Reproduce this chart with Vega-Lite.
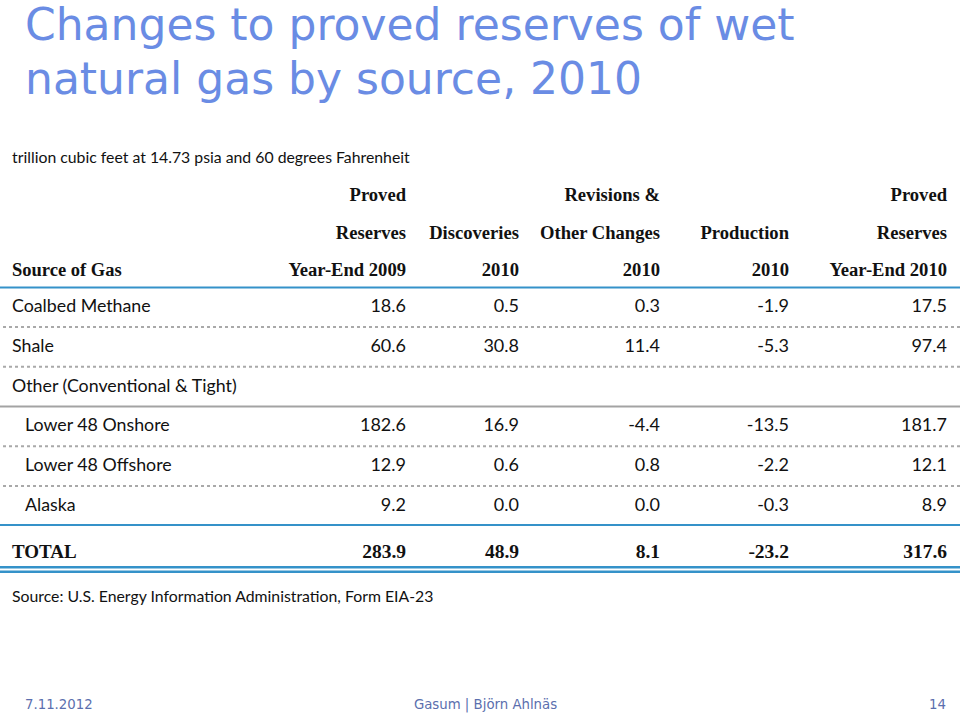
{
  "$schema": "https://vega.github.io/schema/vega-lite/v6.json",
  "width": 960,
  "height": 715,
  "autosize": {"type": "none"},
  "padding": 0,
  "background": "white",
  "config": {
    "view": {"stroke": null},
    "locale": {"number": {"decimal": ".", "thousands": ",", "grouping": [3], "currency": ["$", ""], "minus": "-"}}
  },
  "datasets": {
    "table": [
      {"line": 0, "source": "Coalbed Methane", "level": "top", "y2009": 18.6, "disc": 0.5, "rev": 0.3, "prod": -1.9, "y2010": 17.5},
      {"line": 1, "source": "Shale", "level": "top", "y2009": 60.6, "disc": 30.8, "rev": 11.4, "prod": -5.3, "y2010": 97.4},
      {"line": 2, "source": "Other (Conventional & Tight)", "level": "top", "y2009": null, "disc": null, "rev": null, "prod": null, "y2010": null},
      {"line": 3, "source": "Lower 48 Onshore", "level": "sub", "y2009": 182.6, "disc": 16.9, "rev": -4.4, "prod": -13.5, "y2010": 181.7},
      {"line": 4, "source": "Lower 48 Offshore", "level": "sub", "y2009": 12.9, "disc": 0.6, "rev": 0.8, "prod": -2.2, "y2010": 12.1},
      {"line": 5, "source": "Alaska", "level": "sub", "y2009": 9.2, "disc": 0.0, "rev": 0.0, "prod": -0.3, "y2010": 8.9},
      {"line": 6, "source": "TOTAL", "level": "total", "y2009": 283.9, "disc": 48.9, "rev": 8.1, "prod": -23.2, "y2010": 317.6}
    ],
    "columns": [
      {"key": "y2009", "col": 1},
      {"key": "disc", "col": 2},
      {"key": "rev", "col": 3},
      {"key": "prod", "col": 4},
      {"key": "y2010", "col": 5}
    ],
    "headers": [
      {"col": 0, "line": -1, "text": "Source of Gas"},
      {"col": 1, "line": -3, "text": "Proved"},
      {"col": 1, "line": -2, "text": "Reserves"},
      {"col": 1, "line": -1, "text": "Year-End 2009"},
      {"col": 2, "line": -2, "text": "Discoveries"},
      {"col": 2, "line": -1, "text": "2010"},
      {"col": 3, "line": -3, "text": "Revisions &"},
      {"col": 3, "line": -2, "text": "Other Changes"},
      {"col": 3, "line": -1, "text": "2010"},
      {"col": 4, "line": -2, "text": "Production"},
      {"col": 4, "line": -1, "text": "2010"},
      {"col": 5, "line": -3, "text": "Proved"},
      {"col": 5, "line": -2, "text": "Reserves"},
      {"col": 5, "line": -1, "text": "Year-End 2010"}
    ],
    "notes": [
      {"role": "title", "col": 0, "line": -7, "text": "Changes to proved reserves of wet"},
      {"role": "title", "col": 0, "line": -6, "text": "natural gas by source, 2010"},
      {"role": "unit", "col": 0, "line": -4, "text": "trillion cubic feet at 14.73 psia and 60 degrees Fahrenheit"},
      {"role": "source", "col": 0, "line": 7, "text": "Source: U.S. Energy Information Administration, Form EIA-23"}
    ],
    "rules": [
      {"line": -0.5, "kind": "blue"},
      {"line": 0.5, "kind": "dotted"},
      {"line": 1.5, "kind": "dotted"},
      {"line": 2.5, "kind": "gray"},
      {"line": 3.5, "kind": "dotted"},
      {"line": 4.5, "kind": "dotted"},
      {"line": 5.5, "kind": "blue"},
      {"line": 6.5, "kind": "double"}
    ],
    "footer": [
      {"line": 8, "slot": "left", "text": "7.11.2012"},
      {"line": 8, "slot": "center", "text": "Gasum | Björn Ahlnäs"},
      {"line": 8, "slot": "right", "text": "14"}
    ]
  },
  "encoding": {
    "y": {
      "field": "line", "type": "quantitative", "axis": null,
      "scale": {
        "domain": [-7, -6, -4, -3, -2, -1, -0.5, 0, 5, 5.5, 6, 6.5, 7, 8],
        "range": [27, 81, 158, 195, 233, 270, 287.5, 307, 506, 525, 552, 569.5, 596.5, 705],
        "zero": false, "nice": false
      }
    }
  },
  "layer": [
    {
      "data": {"name": "rules"},
      "layer": [
        {"transform": [{"filter": "datum.kind === 'dotted'"}], "mark": {"type": "rule", "color": "#a9a9a9", "strokeWidth": 2, "strokeDash": [3, 3]}, "encoding": {}},
        {"transform": [{"filter": "datum.kind === 'gray'"}], "mark": {"type": "rule", "color": "#a3a3a3", "strokeWidth": 2}, "encoding": {}},
        {"transform": [{"filter": "datum.kind === 'blue'"}], "mark": {"type": "rule", "color": "#3592c9", "strokeWidth": 2.2}, "encoding": {}},
        {"transform": [{"filter": "datum.kind === 'double'"}], "mark": {"type": "rule", "color": "#3592c9", "strokeWidth": 7}, "encoding": {}},
        {"transform": [{"filter": "datum.kind === 'double'"}], "mark": {"type": "rule", "color": "white", "strokeWidth": 2}, "encoding": {}}
      ]
    },
    {
      "encoding": {
        "x": {
          "field": "col", "type": "quantitative", "axis": null,
          "scale": {"domain": [0, 1, 2, 3, 4, 5], "range": [12, 406, 519, 660, 789, 947], "zero": false, "nice": false}
        }
      },
      "layer": [
        {
          "data": {"name": "notes"},
          "transform": [{"filter": "datum.role === 'title'"}],
          "mark": {"type": "text", "align": "left", "baseline": "middle", "dx": 13, "font": "DejaVu Sans", "fontSize": 44, "color": "#6a8ce4"},
          "encoding": {"text": {"field": "text"}}
        },
        {
          "data": {"name": "notes"},
          "transform": [{"filter": "datum.role !== 'title'"}],
          "mark": {"type": "text", "align": "left", "baseline": "middle", "font": "Lato", "fontSize": 15.8, "color": "#111111"},
          "encoding": {"text": {"field": "text"}}
        },
        {
          "data": {"name": "headers"},
          "transform": [{"filter": "datum.col === 0"}],
          "mark": {"type": "text", "align": "left", "baseline": "middle", "font": "Liberation Serif", "fontWeight": "bold", "fontSize": 18.5, "color": "#111111"},
          "encoding": {"text": {"field": "text"}}
        },
        {
          "data": {"name": "headers"},
          "transform": [{"filter": "datum.col > 0"}],
          "mark": {"type": "text", "align": "right", "baseline": "middle", "font": "Liberation Serif", "fontWeight": "bold", "fontSize": 18.6, "color": "#111111"},
          "encoding": {"text": {"field": "text"}}
        },
        {
          "data": {"name": "table"},
          "transform": [{"filter": "datum.level === 'top'"}, {"calculate": "0", "as": "col"}],
          "mark": {"type": "text", "align": "left", "baseline": "middle", "font": "Lato", "fontSize": 17.8, "color": "#111111"},
          "encoding": {"text": {"field": "source"}}
        },
        {
          "data": {"name": "table"},
          "transform": [{"filter": "datum.level === 'sub'"}, {"calculate": "0", "as": "col"}],
          "mark": {"type": "text", "align": "left", "baseline": "middle", "dx": 13, "font": "Lato", "fontSize": 17.8, "color": "#111111"},
          "encoding": {"text": {"field": "source"}}
        },
        {
          "data": {"name": "table"},
          "transform": [{"filter": "datum.level === 'total'"}, {"calculate": "0", "as": "col"}],
          "mark": {"type": "text", "align": "left", "baseline": "middle", "font": "Liberation Serif", "fontWeight": "bold", "fontSize": 19, "color": "#111111"},
          "encoding": {"text": {"field": "source"}}
        },
        {
          "data": {"name": "table"},
          "transform": [
            {"filter": "datum.level !== 'total'"},
            {"fold": ["y2009", "disc", "rev", "prod", "y2010"], "as": ["key", "value"]},
            {"filter": "datum.value !== null"},
            {"lookup": "key", "from": {"data": {"name": "columns"}, "key": "key", "fields": ["col"]}}
          ],
          "mark": {"type": "text", "align": "right", "baseline": "middle", "font": "Lato", "fontSize": 18, "color": "#111111"},
          "encoding": {"text": {"field": "value", "type": "quantitative", "format": ".1f"}}
        },
        {
          "data": {"name": "table"},
          "transform": [
            {"filter": "datum.level === 'total'"},
            {"fold": ["y2009", "disc", "rev", "prod", "y2010"], "as": ["key", "value"]},
            {"lookup": "key", "from": {"data": {"name": "columns"}, "key": "key", "fields": ["col"]}}
          ],
          "mark": {"type": "text", "align": "right", "baseline": "middle", "font": "Liberation Serif", "fontWeight": "bold", "fontSize": 19.5, "color": "#111111"},
          "encoding": {"text": {"field": "value", "type": "quantitative", "format": ".1f"}}
        }
      ]
    },
    {
      "data": {"name": "footer"},
      "encoding": {
        "x": {"field": "slot", "type": "nominal", "axis": null, "scale": {"type": "point", "domain": ["left", "center", "right"], "range": [25, 946], "padding": 0}}
      },
      "layer": [
        {"transform": [{"filter": "datum.slot === 'left'"}], "mark": {"type": "text", "align": "left", "baseline": "middle", "font": "DejaVu Sans", "fontSize": 13.3, "color": "#5b6fae"}, "encoding": {"text": {"field": "text"}}},
        {"transform": [{"filter": "datum.slot === 'center'"}], "mark": {"type": "text", "align": "center", "baseline": "middle", "font": "DejaVu Sans", "fontSize": 13.3, "color": "#5b6fae"}, "encoding": {"text": {"field": "text"}}},
        {"transform": [{"filter": "datum.slot === 'right'"}], "mark": {"type": "text", "align": "right", "baseline": "middle", "font": "DejaVu Sans", "fontSize": 13.3, "color": "#5b6fae"}, "encoding": {"text": {"field": "text"}}}
      ]
    }
  ],
  "resolve": {"scale": {"x": "independent"}}
}
